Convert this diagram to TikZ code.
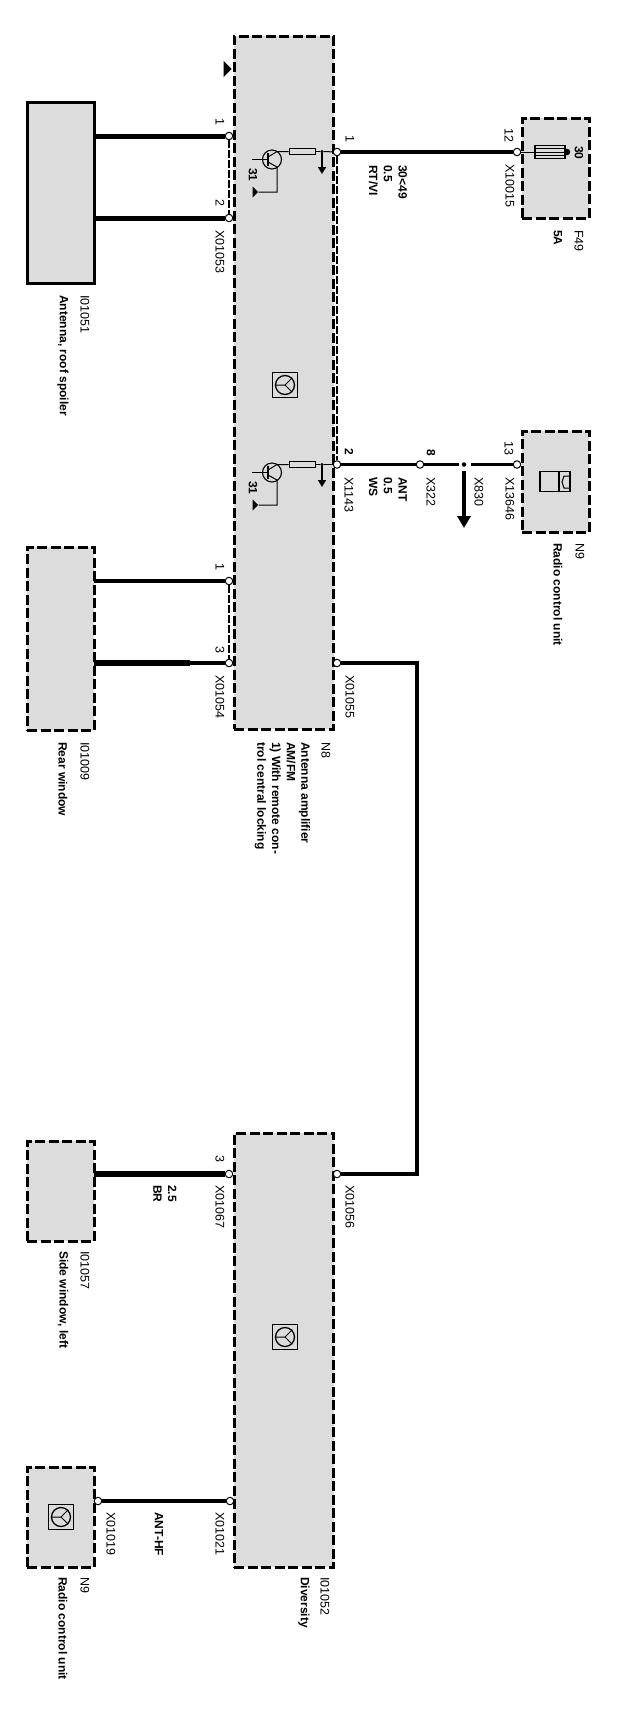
\documentclass[tikz,border=0pt]{standalone}
\usepackage{fontspec}
\setmainfont{Liberation Sans}
\usetikzlibrary{arrows.meta,shapes.geometric}
\definecolor{boxgray}{HTML}{DCDCDC}
\tikzset{
  unitbox/.style={draw, fill=boxgray, line width=3pt, dash pattern=on 10pt off 3.5pt, inner sep=0pt, outer sep=0pt},
  solidbox/.style={draw, fill=boxgray, line width=3pt, inner sep=0pt, outer sep=0pt},
  pinc/.style={circle, draw, fill=white, line width=1pt, minimum size=7.5pt, inner sep=0pt},
  wirea/.style={line width=3.6pt},
  wireb/.style={line width=5pt},
  shield/.style={line width=1.1pt, dash pattern=on 8pt off 2pt},
  thinw/.style={line width=1pt},
  lbl/.style={rotate=-90, anchor=west, inner sep=0pt, align=left, font=\fontsize{12.5}{15}\selectfont},
  lblb/.style={lbl, font=\fontsize{12}{14.7}\selectfont\bfseries},
  flag/.style={isosceles triangle, isosceles triangle apex angle=90, fill, inner sep=0pt, minimum height=5.5pt, minimum width=10pt},
  trans/.style={circle, draw, line width=1.1pt, minimum size=19pt, inner sep=0pt},
  resist/.style={draw, fill=boxgray, line width=1pt, minimum width=26pt, minimum height=6pt, inner sep=0pt},
  iconbox/.style={draw, line width=1.4pt, minimum size=25pt, inner sep=0pt},
  iconring/.style={circle, draw, line width=1.3pt, minimum size=19pt, inner sep=0pt},
}
\begin{document}
\begin{tikzpicture}[x=1pt,y=-1pt]
\useasboundingbox (0,0) rectangle (617,1709);
% boxes
\node[unitbox, minimum width=99.5pt, minimum height=693pt] (amp) at (283.75,382.5){};
\node[unitbox, minimum width=99.5pt, minimum height=434pt] (div) at (283.75,1350){};
\node[solidbox, minimum width=67pt, minimum height=181pt] (ant) at (60.5,192.5){};
\node[unitbox, minimum width=67pt, minimum height=183pt] (rear) at (60.5,638.5){};
\node[unitbox, minimum width=67pt, minimum height=100pt] (side) at (60.5,1191){};
\node[unitbox, minimum width=67pt, minimum height=100pt] (radlow) at (60.5,1517){};
\node[unitbox, minimum width=67pt, minimum height=100pt] (fuse) at (555.5,168){};
\node[unitbox, minimum width=67pt, minimum height=101pt] (radup) at (555.5,481.5){};
% pins
\node[pinc] (x1053a) at (229,136){};
\node[pinc] (x1053b) at (229,218){};
\node[pinc] (x1054a) at (229,581){};
\node[pinc] (x1054b) at (229,663){};
\node[pinc] (x1067) at (229,1174){};
\node[pinc] (x1021) at (230,1501){};
\node[pinc] (x1019) at (98,1501){};
\node[pinc] (x1056) at (337,1174){};
\node[pinc] (x1055) at (337,663){};
\node[pinc] (x1143) at (337,464.5){};
\node[pinc] (x1) at (337,152){};
\node[pinc] (x322) at (420,464.5){};
\node[pinc] (x13646) at (517,464.5){};
\node[pinc] (x10015) at (517,152){};
\node[circle, fill, inner sep=0pt, minimum size=4.5pt] (x830) at (464,464.5){};
\coordinate (x830a) at (459,464.5);
\coordinate (x830b) at (471,464.5);
\coordinate (x830c) at (464,471);
\coordinate (x830d) at (464,528);
\coordinate (bend1) at (417,663);
\coordinate (bend2) at (417,1174);
\coordinate (ra) at (190,581);
\coordinate (rb) at (190,663);
% shields
\draw[shield](x1053a) -- (x1053b);
\draw[shield](x1054a) -- (x1054b);
\draw[shield](x1) -- (x1143);
% wires
\draw[wireb](x1053a) -- (x1053a -| ant.east);
\draw[wireb](x1053b) -- (x1053b -| ant.east);
\draw[wirea](x1054a) -- (ra);
\draw[line width=4.6pt](ra) -- (ra -| rear.east);
\draw[wirea](x1054b) -- (rb);
\draw[line width=6pt](rb) -- (rb -| rear.east);
\draw[line width=5.2pt](x1067) -- (x1067 -| side.east);
\draw[wirea](x1021) -- (x1019);
\draw[line width=4pt, line join=miter](x1055) -- (bend1) -- (bend2) -- (x1056);
\draw[wirea](x1) -- (x10015);
\draw[wirea](x1143) -- (x322);
\draw[wirea](x322) -- (x830a);
\draw[wirea](x830b) -- (x13646);
\draw[line width=4pt, -{Triangle[length=12pt,width=13pt]}](x830c) -- (x830d);
% amplifier stage 1
\node[trans] (tr1) at (272,159.5){};
\node[resist] (res1) at (302,151.5){};
\node[flag] (gnd1) at (255,192){};
\node[fill, circle, inner sep=0pt, minimum size=3.5pt] (jn1) at (322,151.5){};
\coordinate (base1) at (252,159.5);
\coordinate (bar1a) at (268,153);
\coordinate (bar1b) at (268,166);
\coordinate (coll1) at (277,151.5);
\coordinate (emit1) at (277,192);
\coordinate (drop1) at (322,174);
\draw[thinw](base1) -- (268,159.5);
\draw[line width=1.3pt](bar1a) -- (bar1b);
\draw[thinw](268,157) -- (coll1) -- (res1);
\draw[thinw](268,162) -- (277,167) -- (emit1) -- (gnd1);
\draw[thinw](res1) -- (jn1);
\draw[thinw](jn1) -- (x1);
\draw[line width=1.4pt, -{Triangle[length=7pt,width=8pt]}](jn1) -- (drop1);
% amplifier stage 2
\node[trans] (tr2) at (272,472.5){};
\node[resist] (res2) at (302,464.5){};
\node[flag] (gnd2) at (255,505){};
\node[fill, circle, inner sep=0pt, minimum size=3.5pt] (jn2) at (322,464.5){};
\coordinate (base2) at (252,472.5);
\coordinate (bar2a) at (268,466);
\coordinate (bar2b) at (268,479);
\coordinate (coll2) at (277,464.5);
\coordinate (emit2) at (277,505);
\coordinate (drop2) at (322,487);
\draw[thinw](base2) -- (268,472.5);
\draw[line width=1.3pt](bar2a) -- (bar2b);
\draw[thinw](268,470) -- (coll2) -- (res2);
\draw[thinw](268,475) -- (277,480) -- (emit2) -- (gnd2);
\draw[thinw](res2) -- (jn2);
\draw[thinw](jn2) -- (x1143);
\draw[line width=1.4pt, -{Triangle[length=7pt,width=8pt]}](jn2) -- (drop2);
\node[flag, minimum height=8pt, minimum width=12pt] (gnd0) at (227,69){};
% fuse
\node[draw, fill=boxgray, line width=1.2pt, minimum width=30pt, minimum height=13pt, inner sep=0pt] (fs) at (550,152){};
\node[circle, fill, inner sep=0pt, minimum size=6.5pt] (fsdot) at (567,152){};
\draw[thinw](x10015) -- (fs);
\draw[thinw](fs.west) -- (fsdot);
\draw[line width=.6pt]([yshift=-3.5pt]fs.west) -- ([yshift=-3.5pt]fsdot.west);
\draw[line width=.6pt]([yshift=3.5pt]fs.west) -- ([yshift=3.5pt]fsdot.west);
% radio symbol
\node[draw, line width=1.2pt, minimum width=30pt, minimum height=20pt, inner sep=0pt] (rsym) at (555,481.5){};
\coordinate (rsa) at (559,471.5);
\coordinate (rsb) at (559,491.5);
\draw[line width=1.2pt](rsa) -- (rsb);
\draw[line width=1pt](rsym.east |- 476,476) -- (564,476) -- (562,482) -- (564,488) -- (rsym.east |- 488,488);
% antenna icons
\node[iconbox] (ic1) at (285,385){};
\node[iconring] (ir1) at (285,385){};
\draw[thinw](ir1.west) -- (ir1.center) -- (ir1.north east);
\draw[thinw](ir1.center) -- (ir1.south east);
\node[iconbox] (ic2) at (285,1337){};
\node[iconring] (ir2) at (285,1337){};
\draw[thinw](ir2.west) -- (ir2.center) -- (ir2.north east);
\draw[thinw](ir2.center) -- (ir2.south east);
\node[iconbox] (ic3) at (61,1517){};
\node[iconring] (ir3) at (61,1517){};
\draw[thinw](ir3.west) -- (ir3.center) -- (ir3.north east);
\draw[thinw](ir3.center) -- (ir3.south east);
% labels top
\node[lbl] (t1) at (220,118){1};
\node[lbl] (t2) at (220,199){2};
\node[lbl] (t3) at (220,230){X01053};
\node[lbl] (t4) at (85,295){I01051};
\node[lblb] (t5) at (63,295){Antenna, roof spoiler};
\node[lbl] (t6) at (350,135){1};
\node[lblb] (t7) at (388,165){30<49\\0.5\\RT/VI};
\node[lbl] (t8) at (509,128){12};
\node[lbl] (t9) at (510,164){X10015};
\node[lblb] (t10) at (579,146){30};
\node[lbl] (t11) at (579,230){F49};
\node[lblb] (t12) at (558,230){5A};
\node[lblb] (t13) at (349,448){2};
\node[lbl] (t14) at (349,477){X1143};
\node[lblb] (t15) at (388,477){ANT\\0.5\\WS};
\node[lblb] (t16) at (431,449){8};
\node[lbl] (t17) at (431,477){X322};
\node[lbl] (t18) at (479,477){X830};
\node[lbl] (t19) at (509,441){13};
\node[lbl] (t20) at (510,477){X13646};
\node[lbl] (t21) at (580,543){N9};
\node[lblb] (t22) at (558,543){Radio control unit};
\node[lbl] (t23) at (220,563){1};
\node[lbl] (t24) at (220,646){3};
\node[lbl] (t25) at (220,675){X01054};
\node[lbl] (t26) at (350,675){X01055};
\node[lbl] (t27) at (85,742){I01009};
\node[lblb] (t28) at (63,742){Rear window};
\node[lbl] (t29) at (326,742){N8};
\node[lblb] (t30) at (282.5,742){Antenna amplifier\\AM/FM\\1) With remote con-\\trol central locking};
\node[lblb] (t31) at (253,168){31};
\node[lblb] (t32) at (253,481){31};
% labels bottom
\node[lbl] (t33) at (220,1155){3};
\node[lbl] (t34) at (220,1185){X01067};
\node[lbl] (t35) at (350,1185){X01056};
\node[lblb] (t36) at (165,1185){2.5\\BR};
\node[lbl] (t37) at (85,1251){I01057};
\node[lblb] (t38) at (63,1251){Side window, left};
\node[lbl] (t39) at (111,1512){X01019};
\node[lblb] (t40) at (159,1512){ANT-HF};
\node[lbl] (t41) at (220,1512){X01021};
\node[lbl] (t42) at (85,1577){N9};
\node[lblb] (t43) at (63,1577){Radio control unit};
\node[lbl] (t44) at (325,1577){I01052};
\node[lblb] (t45) at (304,1577){Diversity};
\end{tikzpicture}
\end{document}
